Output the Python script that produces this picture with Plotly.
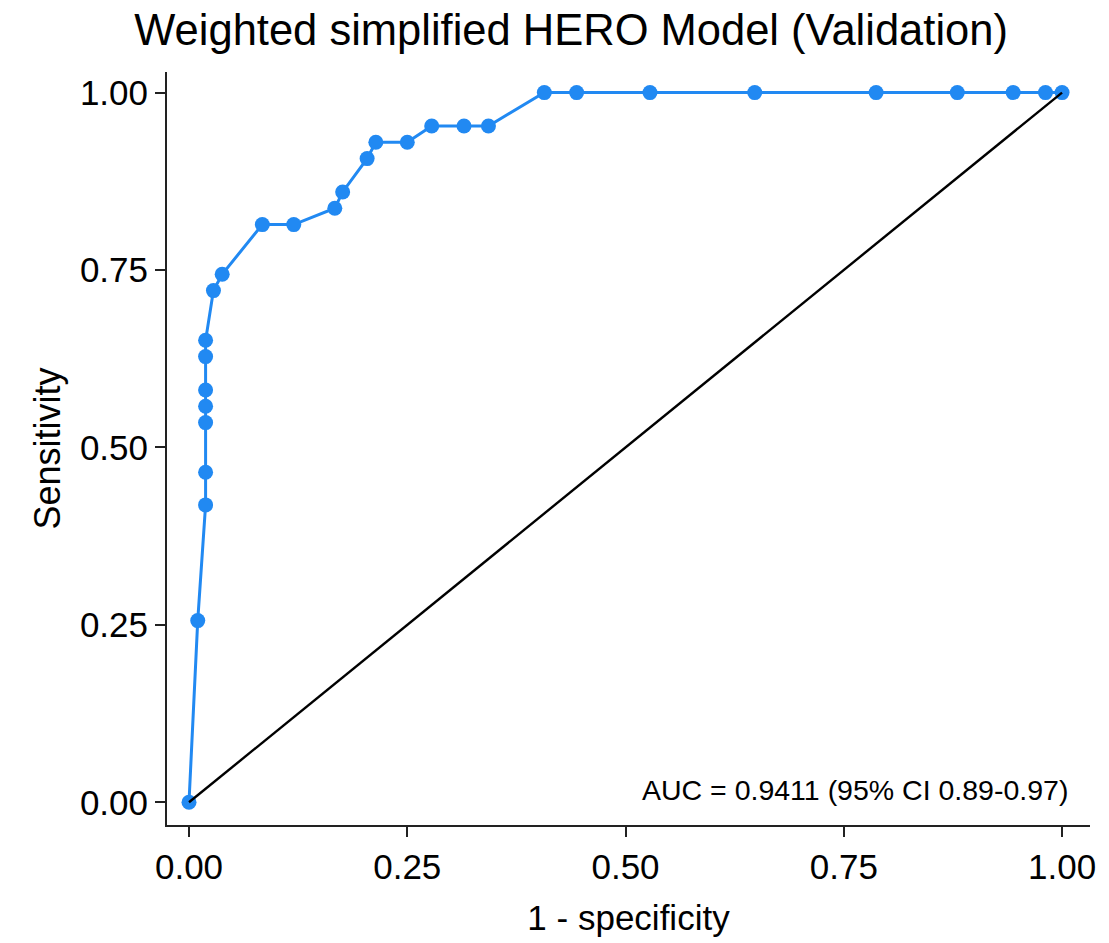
import plotly.graph_objects as go

# ROC points (1 - specificity, sensitivity)
fpr = [0.0, 0.010, 0.019, 0.019, 0.019, 0.019, 0.019, 0.019, 0.019, 0.028, 0.038,
       0.084, 0.120, 0.167, 0.176, 0.204, 0.214, 0.250, 0.278, 0.315, 0.343,
       0.407, 0.444, 0.528, 0.648, 0.787, 0.880, 0.944, 0.981, 1.0]
tpr = [0.0, 0.256, 0.419, 0.465, 0.535, 0.558, 0.581, 0.628, 0.651, 0.721, 0.744,
       0.814, 0.814, 0.837, 0.860, 0.907, 0.930, 0.930, 0.953, 0.953, 0.953,
       1.0, 1.0, 1.0, 1.0, 1.0, 1.0, 1.0, 1.0, 1.0]
ref_x = [0.0, 1.0]
ref_y = [0.0, 1.0]
tick_vals = [0.0, 0.25, 0.5, 0.75, 1.0]
tick_text = ["0.00", "0.25", "0.50", "0.75", "1.00"]
title_text = "Weighted simplified HERO Model (Validation)"
auc_text = "AUC = 0.9411 (95% CI 0.89-0.97)"

FONT = "Liberation Sans, Arial, Helvetica, sans-serif"
BLUE = "#2189f2"

fig = go.Figure()
fig.add_trace(go.Scatter(
    x=fpr, y=tpr, mode="lines+markers",
    line=dict(color=BLUE, width=3),
    marker=dict(color=BLUE, size=15),
    showlegend=False, hoverinfo="skip"))
fig.add_trace(go.Scatter(
    x=ref_x, y=ref_y, mode="lines",
    line=dict(color="black", width=2.4),
    showlegend=False, hoverinfo="skip"))

axis_common = dict(
    showgrid=False, zeroline=False, showline=True, linecolor="#222222", linewidth=2,
    ticks="outside", ticklen=10, tickwidth=2, tickcolor="#222222",
    tickvals=tick_vals, ticktext=tick_text,
    tickfont=dict(family=FONT, size=35, color="black"),
)

fig.update_layout(
    width=1109, height=943,
    paper_bgcolor="white", plot_bgcolor="white",
    margin=dict(l=167, r=19, t=72, b=111),
    font=dict(family=FONT, color="black"),
    title=dict(text=title_text, x=0.515, xref="container", xanchor="center",
               y=1 - 30 / 943, yref="container", yanchor="middle",
               font=dict(family=FONT, size=43.5, color="black")),
    xaxis=dict(range=[-0.0252, 1.032],
               title=dict(text="1 - specificity", font=dict(family=FONT, size=35), standoff=20),
               **axis_common),
    yaxis=dict(range=[-0.032, 1.029],
               title=dict(text="Sensitivity", font=dict(family=FONT, size=36), standoff=8),
               **axis_common),
    annotations=[dict(text=auc_text, x=1.009, y=0.018, xref="x", yref="y",
                      xanchor="right", yanchor="middle", showarrow=False,
                      font=dict(family=FONT, size=28.5, color="black"))],
)

fig.write_html("out.html")
